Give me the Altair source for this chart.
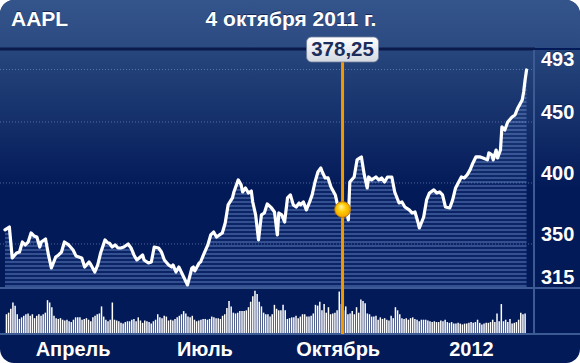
import altair as alt
import pandas as pd
import numpy as np

# ---------------- data ----------------
ticker = "AAPL"
title_date = "4 октября 2011 г."
start_date = "2011-02-13"
end_date = "2012-02-09"

# calendar-day offsets from start_date and closing prices
days = [0, 3, 5, 8, 10, 12, 14, 16, 18, 20, 22, 24, 25, 28, 30, 32, 35, 37, 39, 41,
        44, 47, 49, 53, 55, 58, 59, 62, 64, 66, 69, 71, 72, 74, 76, 78, 80, 82, 85, 87,
        89, 91, 95, 96, 99, 101, 103, 106, 108, 110, 113, 115, 116, 118, 120, 122, 126, 129, 130, 131,
        134, 135, 137, 140, 142, 144, 146, 148, 150, 152, 154, 157, 158, 161, 163, 164, 166, 168, 170, 171,
        173, 175, 177, 179, 181, 184, 186, 188, 189, 191, 193, 195, 197, 199, 201, 203, 204, 206, 208, 210,
        212, 214, 216, 218, 219, 221, 223, 225, 228, 230, 233, 236, 237, 238, 241, 243, 245, 246, 248, 250,
        251, 253, 256, 258, 260, 262, 264, 267, 269, 272, 274, 276, 279, 281, 283, 285, 286, 289, 291, 293,
        296, 298, 300, 302, 304, 307, 309, 311, 315, 317, 319, 321, 323, 325, 328, 330, 333, 334, 336, 337,
        339, 340, 342, 343, 345, 347, 350, 352, 354, 357, 358, 359, 360]
prices = [361.5, 363.9, 338.5, 342.6, 343.4, 351.6, 349.2, 351.6, 359.0, 356.6, 355.7, 347.5, 351.6, 354.1, 341.0, 330.3, 339.3, 341.0, 343.4, 351.6,
          349.2, 345.1, 340.2, 338.5, 331.1, 335.2, 333.6, 327.0, 332.8, 342.6, 353.3, 350.8, 350.8, 347.5, 349.2, 346.7, 346.7, 347.5, 350.0, 346.7,
          341.0, 336.9, 341.0, 336.9, 334.4, 335.2, 347.5, 346.7, 343.4, 336.9, 332.8, 331.1, 332.8, 327.0, 331.1, 326.2, 316.4, 330.3, 331.1, 327.9,
          334.4, 335.2, 341.0, 349.2, 357.4, 359.8, 355.7, 357.4, 359.0, 367.2, 382.0, 387.7, 392.6, 402.5, 398.4, 392.6, 395.9, 391.8, 393.4, 384.4,
          373.8, 353.3, 373.8, 375.4, 382.8, 379.5, 376.2, 357.4, 375.4, 373.8, 368.0, 387.7, 390.2, 382.0, 380.3, 383.6, 382.0, 384.4, 377.9, 383.6,
          390.2, 400.8, 409.0, 412.3, 409.0, 404.1, 404.1, 396.7, 390.2, 379.5, 378.25, 376.2, 369.7, 400.8, 404.9, 418.9, 420.5, 421.3, 406.6, 395.9,
          404.9, 402.5, 404.9, 402.5, 404.1, 400.8, 404.9, 404.9, 392.6, 383.6, 384.4, 380.3, 377.9, 375.4, 376.2, 368.0, 363.1, 372.1, 386.1, 391.8,
          394.3, 391.8, 392.6, 390.2, 380.3, 379.5, 386.1, 395.9, 404.9, 404.1, 406.6, 410.7, 416.4, 421.3, 421.3, 420.5, 418.9, 424.6, 423.0, 418.9,
          427.0, 420.5, 427.0, 445.9, 443.4, 450.0, 454.1, 455.7, 461.5, 468.0, 474.6, 484.4, 492.6]

# daily volume, millions of shares (one bar per trading day)
volumes = [24, 26, 31, 39, 35, 24, 18, 20, 22, 24, 25, 22, 24, 19, 22, 24, 22, 24, 26, 42,
           39, 33, 22, 19, 18, 19, 17, 16, 17, 15, 14, 17, 20, 20, 20, 17, 18, 19, 17, 15,
           20, 22, 24, 25, 34, 21, 17, 15, 17, 39, 17, 16, 15, 13, 12, 14, 15, 15, 17, 18,
           15, 20, 16, 13, 16, 15, 14, 12, 15, 17, 24, 20, 19, 22, 21, 16, 17, 16, 18, 20,
           22, 24, 28, 25, 21, 20, 22, 17, 15, 16, 17, 18, 18, 17, 18, 21, 20, 19, 19, 18,
           22, 24, 32, 41, 34, 26, 25, 26, 28, 28, 28, 29, 33, 40, 47, 54, 50, 40, 34, 26,
           24, 24, 21, 24, 36, 31, 29, 29, 36, 29, 18,
           19, 20, 20, 22, 19, 21, 24, 24, 21, 21, 22, 25, 36, 35, 40, 29, 37, 26, 33, 24,
           25, 26, 29, 53, 37, 29, 34, 24, 25, 28, 24, 33, 26, 43, 41, 38, 25, 24, 21, 21,
           22, 17, 20, 18, 19, 17, 16, 22, 19, 33, 29, 24, 19, 18, 19, 17, 19, 20, 18, 17,
           15, 17, 17, 17, 16, 15, 14, 15, 14, 14, 16, 15, 17, 14, 13, 14, 12, 12, 13, 12,
           11, 12, 12, 13, 14, 13, 14, 17, 13, 11, 12, 13, 13, 14, 17, 14, 25, 15, 37, 15,
           17, 14, 18, 12, 13, 14, 17, 26, 24, 25]
vol_first, vol_last = "2011-02-14", "2012-02-07"

sel_day = 233
sel_price = 378.25

y_labels = [493, 450, 400, 350, 315]
grid_values = [493, 450, 400, 350]
month_dates = ["2011-04-01", "2011-07-01", "2011-10-01", "2012-01-01"]
month_labels = ["Апрель", "Июль", "Октябрь", "2012"]

assert len(days) == len(prices)

# ---------------- layout ----------------
W, H = 580, 363
X_END = 533
P_MIN, P_MAX = 313.9, 509.8
P_BOTTOM, P_TOP = 288, 49
V_BOTTOM, V_TOP = 333, 290
FONT = "Liberation Sans"

base = pd.Timestamp(start_date)
price_df = pd.DataFrame({"date": base + pd.to_timedelta(days, unit="D"), "price": prices})
vol_df = pd.DataFrame({"date": pd.date_range(vol_first, vol_last, periods=len(volumes)), "vol": volumes})
sel_df = pd.DataFrame({"date": [base + pd.Timedelta(days=sel_day)], "price": [sel_price],
                       "label": [f"{sel_price:.2f}".replace(".", ",")]})
ylab_df = pd.DataFrame({"price": y_labels, "label": [str(v) for v in y_labels]})
grid_df = pd.DataFrame({"price": grid_values})
month_df = pd.DataFrame({"date": pd.to_datetime(month_dates), "label": month_labels})
one = pd.DataFrame({"k": [0]})

d0 = pd.Timestamp(start_date)
d1 = pd.Timestamp(end_date)
x_scale = alt.Scale(domain=[alt.DateTime(year=d0.year, month=d0.month, date=d0.day),
                            alt.DateTime(year=d1.year, month=d1.month, date=d1.day)],
                    range=[0, X_END])
p_scale = alt.Scale(domain=[P_MIN, P_MAX], range=[P_BOTTOM, P_TOP], zero=False, nice=False)
v_scale = alt.Scale(domain=[0, 55], range=[V_BOTTOM, V_TOP], zero=False, nice=False)

X = alt.X("date:T", scale=x_scale, axis=None)
YP = alt.Y("price:Q", scale=p_scale, axis=None)


def lin(c0, c1):
    return alt.Gradient(gradient="linear", x1=0, x2=0, y1=0, y2=1,
                        stops=[alt.GradientStop(color=c0, offset=0), alt.GradientStop(color=c1, offset=1)])


def box(x0, x1, y0, y1):
    return dict(x=alt.value(x0), x2=alt.value(x1), y=alt.value(y0), y2=alt.value(y1))


bg = alt.Chart(one).mark_rect(fill="#031a59", cornerRadius=14).encode(**box(0, W, 0, H))
header = alt.Chart(one).mark_rect(fill=lin("#34558c", "#2b4a81"), cornerRadiusTopLeft=14,
                                  cornerRadiusTopRight=14).encode(**box(0, W, 0, 48))
glow = alt.Chart(one).mark_rect(fill=lin("#27467d", "#031a59")).encode(**box(0, W, 50, 188))
darkline = alt.Chart(one).mark_rule(color="#0a1b4b", strokeWidth=3).encode(**box(0, 535, 49, 49))
sep1 = alt.Chart(one).mark_rule(color="#3c5a93", strokeWidth=2).encode(**box(0, W, P_BOTTOM, P_BOTTOM))
sep2 = alt.Chart(one).mark_rule(color="#3c5a93", strokeWidth=2).encode(**box(0, W, V_BOTTOM + 1, V_BOTTOM + 1))
vsep = alt.Chart(one).mark_rule(color="#3c5a93", strokeWidth=2).encode(**box(534, 534, 50, V_BOTTOM + 1))

grid = alt.Chart(grid_df).mark_rule(color="#7e98c8", opacity=0.6, strokeWidth=1, strokeDash=[1, 2]).encode(
    y=YP, x=alt.value(0), x2=alt.value(X_END))

# striped fill under the price line
k = (P_BOTTOM - P_TOP) / (P_MAX - P_MIN)
box_h = (max(prices) - P_MIN) * k
gap_c = "rgba(60,95,170,0.14)"
stripe_c = "rgba(110,145,210,0.45)"
stops = []
centers = sorted([box_h - d for d in np.arange(2.0, box_h, 4.0)])
for c in centers:
    a = max(0.0, (c - 0.8) / box_h)
    b = min(1.0, (c + 0.8) / box_h)
    stops += [alt.GradientStop(color=gap_c, offset=a), alt.GradientStop(color=stripe_c, offset=a),
              alt.GradientStop(color=stripe_c, offset=b), alt.GradientStop(color=gap_c, offset=b)]
stripe_grad = alt.Gradient(gradient="linear", x1=0, x2=0, y1=0, y2=1, stops=stops)

area = alt.Chart(price_df).mark_area(fill=stripe_grad).encode(x=X, y=YP, y2=alt.datum(P_MIN))
line = alt.Chart(price_df).mark_line(color="white", strokeWidth=3.2, strokeJoin="round", strokeCap="round").encode(x=X, y=YP)

bars = alt.Chart(vol_df).mark_bar(width=1.5, color="#ffffff").encode(
    x=X, y=alt.Y("vol:Q", scale=v_scale, axis=None, stack=None))

orange = alt.Chart(sel_df).mark_rule(color="#f09a00", strokeWidth=3).encode(
    x=X, y=alt.value(61), y2=alt.value(V_BOTTOM + 1))

tip_box = alt.Chart(sel_df).mark_rect(xOffset=-36, x2Offset=36, cornerRadius=5,
                                      fill=lin("#ffffff", "#d3d8e0"), stroke="#6f7d9a", strokeWidth=0.8).encode(
    x=X, x2=alt.X2("date:T"), y=alt.value(37), y2=alt.value(62))
tip_text = alt.Chart(sel_df).mark_text(font=FONT, fontSize=20.5, fontWeight="bold", color="#1b2d5b",
                                       align="center", baseline="middle").encode(
    x=X, y=alt.value(50), text="label:N")

ball_grad = alt.Gradient(gradient="radial", x1=0.4, y1=0.3, r1=0.0, x2=0.5, y2=0.5, r2=0.6,
                         stops=[alt.GradientStop(color="#fff6b8", offset=0),
                                alt.GradientStop(color="#ffcc00", offset=0.45),
                                alt.GradientStop(color="#eb9500", offset=1)])
ball = alt.Chart(sel_df).mark_point(shape="circle", filled=True, size=250, fill=ball_grad, opacity=1,
                                    stroke="#b56f00", strokeWidth=0.8).encode(x=X, y=YP)

shadow = "#0a1840"


def label_text(df, enc, size, dy=0, align="center", color="white"):
    sh = alt.Chart(df).mark_text(font=FONT, fontSize=size, fontWeight="bold", color=shadow, opacity=0.7,
                                 align=align, baseline="middle", dy=dy - 1).encode(**enc)
    tx = alt.Chart(df).mark_text(font=FONT, fontSize=size, fontWeight="bold", color=color,
                                 align=align, baseline="middle", dy=dy).encode(**enc)
    return [sh, tx]


title_df = pd.DataFrame({"label": [ticker]})
date_df = pd.DataFrame({"label": [title_date]})

texts = []
texts += label_text(title_df, dict(x=alt.value(11), y=alt.value(20), text="label:N"), 21, align="left")
texts += label_text(date_df, dict(x=alt.value(291), y=alt.value(20), text="label:N"), 21)
texts += label_text(ylab_df, dict(x=alt.value(541), y=YP, text="label:N"), 20, dy=-9, align="left")
texts += label_text(month_df, dict(x=X, y=alt.value(350), text="label:N"), 20)

chart = alt.layer(
    bg, header, glow, darkline, grid, area, line, sep1, sep2, vsep, bars, orange,
    tip_box, tip_text, ball, *texts
).resolve_scale(y="independent").properties(
    width=W, height=H, padding=0, background="white",
    autosize=alt.AutoSizeParams(type="none")
).configure_view(stroke=None)

chart.save("out.html", embed_options={"renderer": "svg", "actions": False})
